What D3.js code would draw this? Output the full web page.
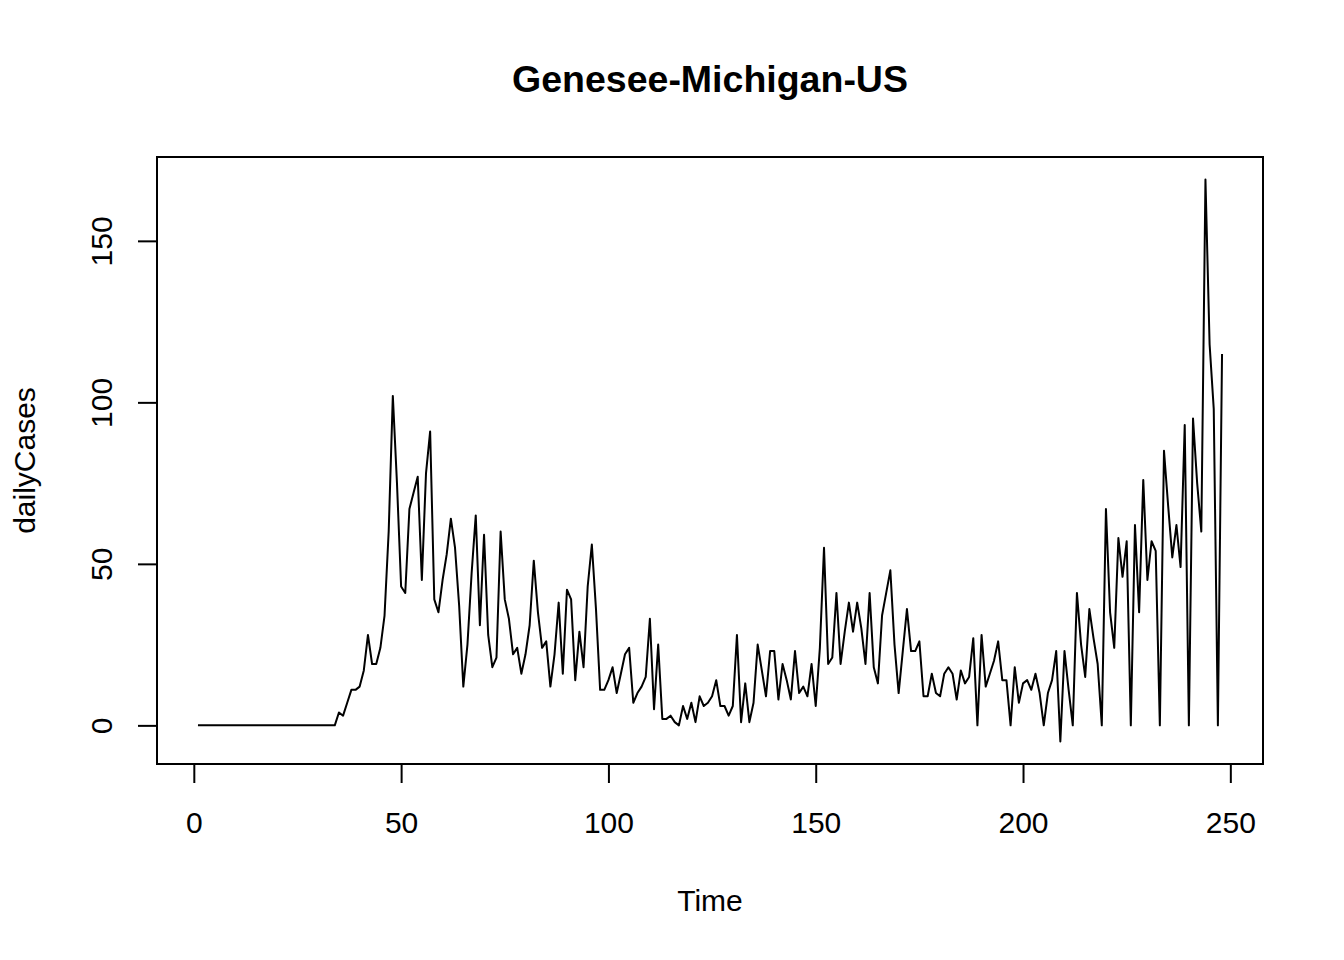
<!DOCTYPE html>
<html>
<head>
<meta charset="utf-8">
<script src="https://cdn.jsdelivr.net/npm/d3@7"></script>
<style>
  html, body { margin: 0; padding: 0; background: #fff; }
  svg { display: block; }
  text { font-family: "Liberation Sans", Arial, sans-serif; fill: #000; }
</style>
</head>
<body>
<svg id="chart" width="1344" height="960"></svg>
<script>
  // daily cases (t = 1..248)
  var LEADING_ZEROS = 34;
  var dailyCases = [
    4, 3, 7, 11, 11, 12, 17, 28, 19, 19, 24, 34, 60, 102, 75, 43,        // 35-50
    41, 67, 72, 77, 45, 78, 91, 39, 35, 45, 53, 64, 55, 37, 12, 25,      // 51-66
    47, 65, 31, 59, 28, 18, 21, 60, 39, 33, 22, 24, 16, 22, 31, 51,      // 67-82
    35, 24, 26, 12, 22, 38, 16, 42, 39, 14, 29, 18, 43, 56, 36, 11,      // 83-98
    11, 14, 18, 10, 16, 22, 24, 7, 10, 12, 15, 33, 5, 25, 2, 2,          // 99-114
    3, 1, 0, 6, 2, 7, 1, 9, 6, 7, 9, 14, 6, 6, 3, 6,                     // 115-130
    28, 1, 13, 1, 7, 25, 17, 9, 23, 23, 8, 19, 14, 8, 23, 10,            // 131-146
    12, 9, 19, 6, 24, 55, 19, 21, 41, 19, 29, 38, 29, 38, 30, 19,        // 147-162
    41, 18, 13, 34, 41, 48, 25, 10, 23, 36, 23, 23, 26, 9, 9, 16,        // 163-178
    10, 9, 16, 18, 16, 8, 17, 13, 15, 27, 0, 28, 12, 16, 20, 26,         // 179-194
    14, 14, 0, 18, 7, 13, 14, 11, 16, 10, 0, 10, 14, 23, -5, 23,         // 195-210
    11, 0, 41, 25, 15, 36, 27, 19, 0, 67, 35, 24, 58, 46, 57, 0,         // 211-226
    62, 35, 76, 45, 57, 54, 0, 85, 68, 52, 62, 49, 93, 0, 95, 75,        // 227-242
    60, 169, 118, 98, 0, 115                                             // 243-248
  ];
  var series = d3.range(LEADING_ZEROS).map(function () { return 0; }).concat(dailyCases);

  var xTicks = [0, 50, 100, 150, 200, 250];
  var yTicks = [0, 50, 100, 150];
  var TITLE = 'Genesee-Michigan-US';
  var X_LABEL = 'Time';
  var Y_LABEL = 'dailyCases';

  var points = series.map(function (v, i) { return { t: i + 1, v: v }; });

  // plot region (R base graphics box)
  var plotL = 157, plotR = 1263, plotT = 157, plotB = 764;

  // R style 4% padding of the data range
  function padded(ext) {
    var d = (ext[1] - ext[0]) * 0.04;
    return [ext[0] - d, ext[1] + d];
  }

  var x = d3.scaleLinear()
    .domain(padded(d3.extent(points, function (d) { return d.t; })))
    .range([plotL, plotR]);
  var y = d3.scaleLinear()
    .domain(padded(d3.extent(points, function (d) { return d.v; })))
    .range([plotB, plotT]);

  var svg = d3.select('#chart');
  svg.append('rect').attr('width', 1344).attr('height', 960).attr('fill', '#fff');

  // series line
  var line = d3.line()
    .x(function (d) { return x(d.t); })
    .y(function (d) { return y(d.v); });

  svg.append('path')
    .datum(points)
    .attr('d', line)
    .attr('fill', 'none')
    .attr('stroke', '#000')
    .attr('stroke-width', 2)
    .attr('stroke-linejoin', 'round');

  // box
  svg.append('rect')
    .attr('x', plotL).attr('y', plotT)
    .attr('width', plotR - plotL).attr('height', plotB - plotT)
    .attr('fill', 'none')
    .attr('stroke', '#000')
    .attr('stroke-width', 2);

  // x axis
  var gx = svg.append('g')
    .attr('transform', 'translate(0,' + plotB + ')')
    .call(d3.axisBottom(x).tickValues(xTicks).tickSize(19).tickPadding(29));
  gx.select('.domain').remove();
  gx.selectAll('.tick line').attr('stroke', '#000').attr('stroke-width', 2);
  gx.selectAll('.tick text')
    .attr('font-size', 30)
    .style('font-family', '"Liberation Sans", Arial, sans-serif')
    .attr('fill', '#000');

  // y axis, labels turned like R's las = 0
  var gy = svg.append('g')
    .attr('transform', 'translate(' + plotL + ',0)')
    .call(d3.axisLeft(y).tickValues(yTicks).tickSize(19));
  gy.select('.domain').remove();
  gy.selectAll('.tick line').attr('stroke', '#000').attr('stroke-width', 2);
  gy.selectAll('.tick text')
    .attr('transform', 'rotate(-90)')
    .attr('x', 0)
    .attr('y', -45)
    .attr('dy', 0)
    .attr('text-anchor', 'middle')
    .attr('font-size', 30)
    .style('font-family', '"Liberation Sans", Arial, sans-serif')
    .attr('fill', '#000');

  // titles
  svg.append('text')
    .attr('x', (plotL + plotR) / 2)
    .attr('y', 92)
    .attr('text-anchor', 'middle')
    .attr('font-size', 37.5)
    .attr('font-weight', 'bold')
    .text(TITLE);

  svg.append('text')
    .attr('x', (plotL + plotR) / 2)
    .attr('y', 911)
    .attr('text-anchor', 'middle')
    .attr('font-size', 30)
    .text(X_LABEL);

  svg.append('text')
    .attr('transform', 'translate(35,' + ((plotT + plotB) / 2) + ') rotate(-90)')
    .attr('text-anchor', 'middle')
    .attr('font-size', 30)
    .text(Y_LABEL);
</script>
</body>
</html>
